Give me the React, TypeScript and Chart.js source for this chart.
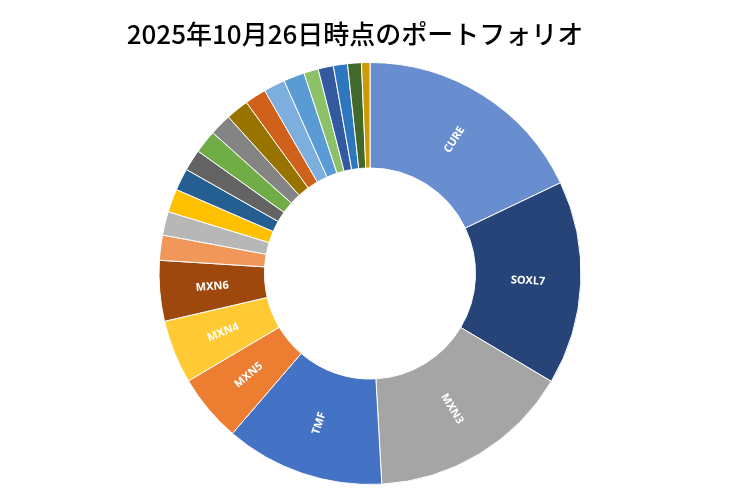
import { useEffect, useRef } from 'react';
import { Chart, registerables, Plugin } from 'chart.js';

Chart.register(...registerables);

const TITLE = '2025年10月26日時点のポートフォリオ';

// holdings, in the order they go round the ring (share of total, %)
const names = [
  'CURE', 'SOXL7', 'MXN3', 'TMF', 'MXN5', 'MXN4', 'MXN6',
  '銘柄8', '銘柄9', '銘柄10', '銘柄11', '銘柄12', '銘柄13', '銘柄14', '銘柄15',
  '銘柄16', '銘柄17', '銘柄18', '銘柄19', '銘柄20', '銘柄21', '銘柄22', '銘柄23',
];
const shares = [
  17.92, 15.61, 15.56, 12.19, 5.19, 4.86, 4.64,
  1.92, 1.81, 1.78, 1.69, 1.64, 1.78, 1.67, 1.75,
  1.64, 1.64, 1.61, 1.11, 1.17, 1.08, 1.06, 0.64,
];
const colors = [
  '#698ED0', '#264478', '#A5A5A5', '#4472C4', '#ED7D31', '#FFCA33', '#9E480E',
  '#F1975A', '#B7B7B7', '#FFC000', '#255E91', '#636363', '#70AD47', '#848484', '#997300',
  '#D0611A', '#7CAFDD', '#5B9BD5', '#8CC168', '#335AA1', '#2E77BE', '#43682B', '#CC9A06',
];
// only the big slices carry a label
const labelled = ['CURE', 'SOXL7', 'MXN3', 'TMF', 'MXN5', 'MXN4', 'MXN6'];

const titlePlugin: Plugin<'doughnut'> = {
  id: 'customTitle',
  afterDraw(chart) {
    const ctx = chart.ctx;
    ctx.save();
    ctx.font = '500 26px "Noto Sans CJK JP"';
    ctx.fillStyle = '#000';
    ctx.textAlign = 'center';
    ctx.textBaseline = 'middle';
    ctx.fillText(TITLE, 355, 34);
    ctx.restore();
  },
};

const sliceLabels: Plugin<'doughnut'> = {
  id: 'sliceLabels',
  afterDatasetsDraw(chart) {
    const ctx = chart.ctx;
    const meta = chart.getDatasetMeta(0);
    ctx.save();
    ctx.font = 'bold 11px "Noto Sans"';
    ctx.fillStyle = '#fff';
    ctx.textAlign = 'center';
    ctx.textBaseline = 'middle';
    meta.data.forEach((el: any, i) => {
      const name = names[i];
      if (!labelled.includes(name)) return;
      const { x, y, startAngle, endAngle, innerRadius, outerRadius } = el.getProps(
        ['x', 'y', 'startAngle', 'endAngle', 'innerRadius', 'outerRadius'],
        true
      );
      const a = (startAngle + endAngle) / 2;
      const r = (innerRadius + outerRadius) / 2;
      let rot = a;
      while (rot > Math.PI / 2) rot -= Math.PI;
      while (rot < -Math.PI / 2) rot += Math.PI;
      ctx.save();
      ctx.translate(x + Math.cos(a) * r, y + Math.sin(a) * r);
      ctx.rotate(rot);
      ctx.fillText(name, 0, 0);
      ctx.restore();
    });
    ctx.restore();
  },
};

export default function App() {
  const canvasRef = useRef<HTMLCanvasElement>(null);
  const chartRef = useRef<Chart<'doughnut'> | null>(null);

  useEffect(() => {
    if (!canvasRef.current) return;
    if (chartRef.current) chartRef.current.destroy();

    chartRef.current = new Chart(canvasRef.current, {
      type: 'doughnut',
      data: {
        labels: names,
        datasets: [
          {
            data: shares,
            backgroundColor: colors,
            borderColor: '#fff',
            borderWidth: 1,
          },
        ],
      },
      options: {
        responsive: true,
        maintainAspectRatio: false,
        animation: false,
        cutout: '50%',
        layout: { padding: { top: 62, bottom: 8, left: 0, right: 0 } },
        plugins: {
          legend: { display: false },
          title: { display: false },
          tooltip: { enabled: false },
        },
      },
      plugins: [sliceLabels, titlePlugin],
    });

    return () => {
      if (chartRef.current) {
        chartRef.current.destroy();
        chartRef.current = null;
      }
    };
  }, []);

  return (
    <div style={{ position: 'fixed', left: 0, top: 0, width: 740, height: 493, background: '#fff' }}>
      <canvas ref={canvasRef}></canvas>
    </div>
  );
}
